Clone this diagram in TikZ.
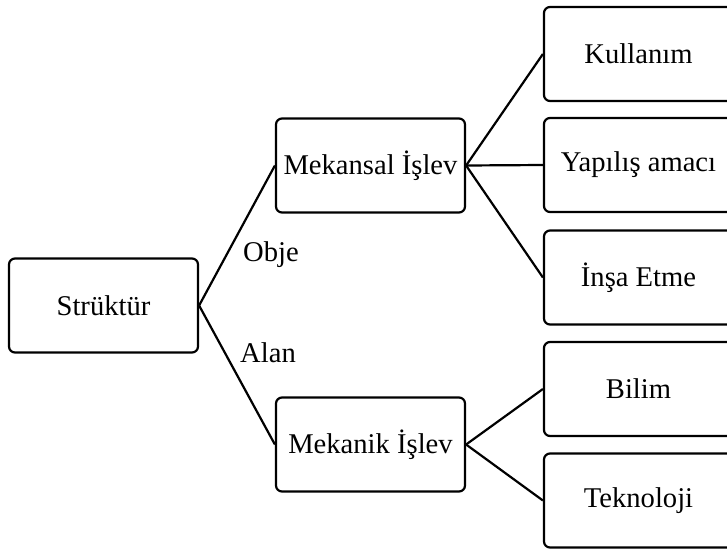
\documentclass[tikz,border=0pt]{standalone}
\usepackage{fontspec}
\setmainfont{Liberation Serif}
\tikzset{
  box/.style={draw=black, line width=2.2pt, rounded corners=6pt, minimum width=189pt, minimum height=94pt, inner sep=0pt, align=center, font=\fontsize{28.6}{34}\selectfont},
  conn/.style={draw=black, line width=2.2pt},
  lbl/.style={inner sep=0pt, font=\fontsize{28.6}{34}\selectfont}
}
\begin{document}
\begin{tikzpicture}[x=1pt,y=-1pt]
\useasboundingbox (0,0) rectangle (727,554);
\node[box] (s) at (103.5,305.5) {Strüktür};
\node[box] (ms) at (370.5,165.5) {Mekansal İşlev};
\node[box] (mk) at (370.5,444.5) {Mekanik İşlev};
\node[box] (k) at (638.5,54) {Kullanım};
\node[box] (y) at (638.5,165) {Yapılış amacı};
\node[box] (i) at (638.5,277.5) {İnşa Etme};
\node[box] (b) at (638.5,389) {Bilim};
\node[box] (t) at (638.5,500.5) {Teknoloji};
\node[lbl] (obje) at (271,255) {Obje};
\node[lbl] (alan) at (268,353) {Alan};
\draw[conn] (s.east) -- (ms.west);
\draw[conn] (s.east) -- (mk.west);
\draw[conn] (ms.east) -- (k.west);
\draw[conn] (ms.east) -- (y.west);
\draw[conn] (ms.east) -- (i.west);
\draw[conn] (mk.east) -- (b.west);
\draw[conn] (mk.east) -- (t.west);
\end{tikzpicture}
\end{document}
